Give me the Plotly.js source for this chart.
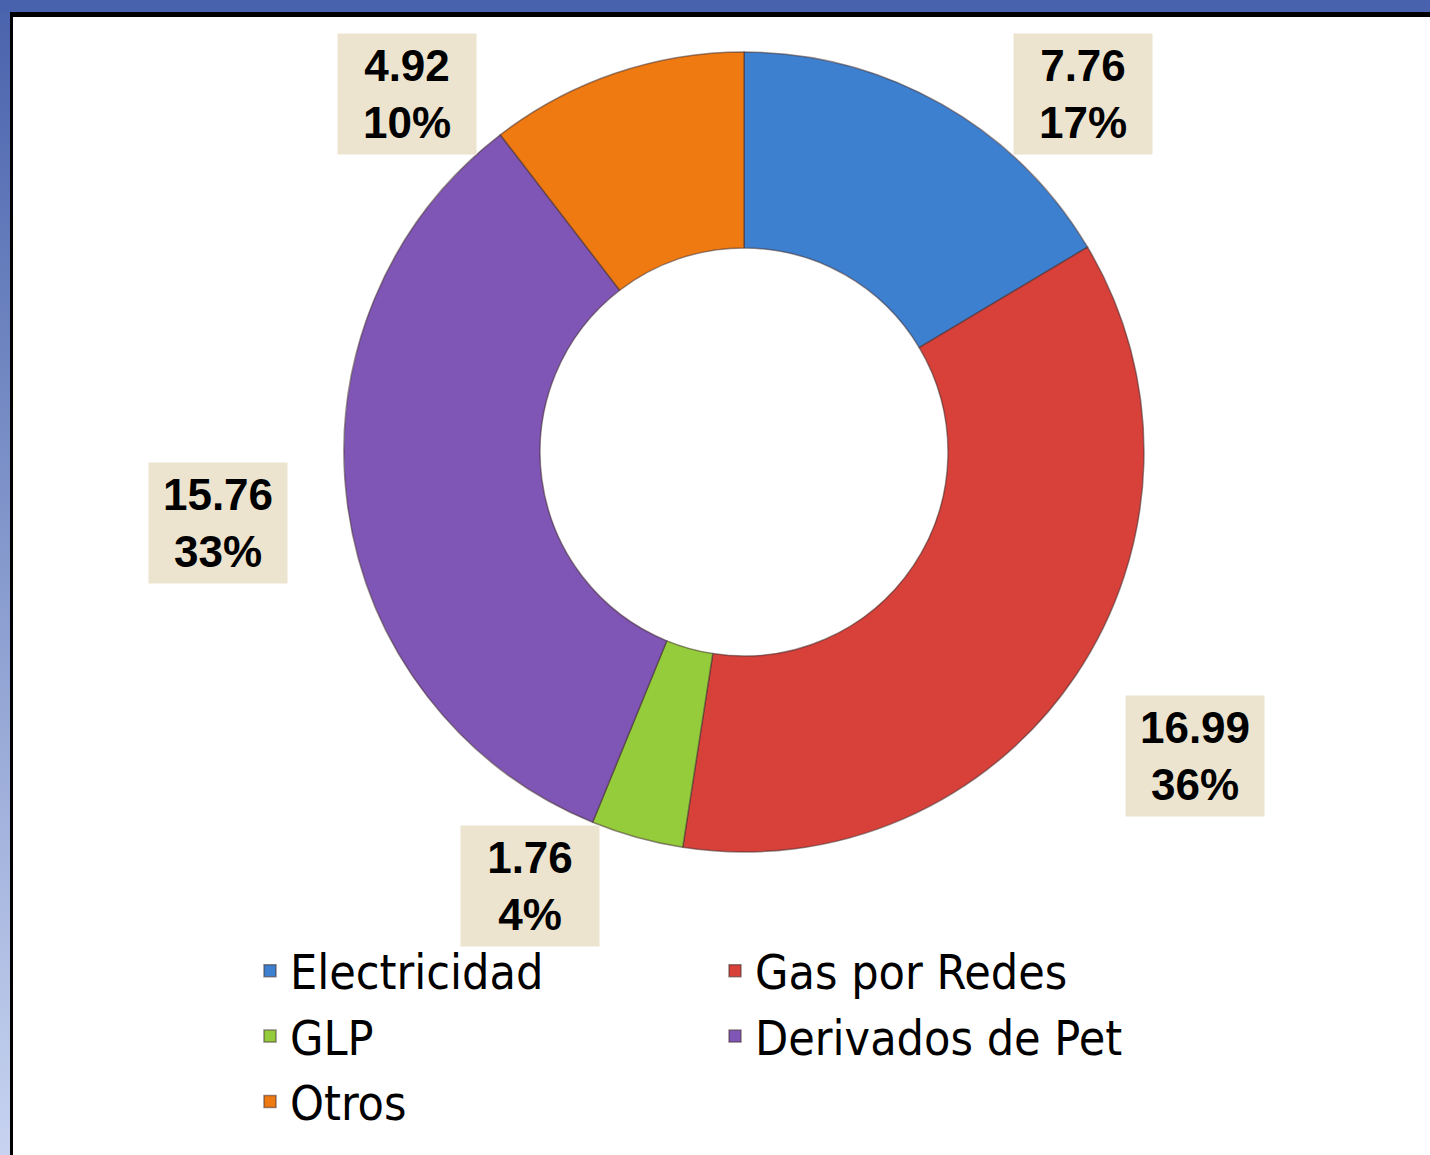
<!DOCTYPE html>
<html>
<head>
<meta charset="utf-8">
<script src="https://cdn.plot.ly/plotly-3.0.1.min.js"></script>
<style>
  html, body { margin:0; padding:0; background:#ffffff; width:1430px; height:1155px; overflow:hidden; }
  #chart { position:absolute; left:0; top:0; width:1430px; height:1155px; }
  #topband { position:absolute; left:0; top:0; width:1430px; height:12px; background:#4862ad; pointer-events:none; }
  #topline { position:absolute; left:10px; top:12px; width:1420px; height:5px; background:#000; pointer-events:none; }
  #leftband { position:absolute; left:0; top:12px; width:10px; height:1143px; background:linear-gradient(#4a64ad, #c7d3f0); pointer-events:none; }
  #leftline { position:absolute; left:10px; top:12px; width:3px; height:1143px; background:#000; pointer-events:none; }
</style>
</head>
<body>
<div id="chart"></div>
<div id="topband"></div>
<div id="topline"></div>
<div id="leftband"></div>
<div id="leftline"></div>
<script>
// ---- data ----
const categories    = ['Electricidad', 'Gas por Redes', 'GLP', 'Derivados de Pet', 'Otros'];
const values        = [7.76, 16.99, 1.76, 15.76, 4.92];
const valueLabels   = ['7.76', '16.99', '1.76', '15.76', '4.92'];
const percentLabels = ['17%', '36%', '4%', '33%', '10%'];
const sliceColors   = ['#3d80d0', '#d8403a', '#94cc3c', '#7f55b5', '#f07a12'];

// ---- geometry (pixels) ----
const W = 1430, H = 1155;
const ML = 0, MR = 280;                 // right margin narrows the legend wrap width (2 columns)
const PW = W - ML - MR;                 // plot-area width
const CX = 744, CY = 452, R = 400;      // pie centre / radius
const BW = 136, BH = 118, GAP = 55;     // label box size and distance
const TOP_LIMIT = 35, BOTTOM_LIMIT = 945;

const px2x = p => (p - ML) / PW;
const px2y = p => 1 - p / H;

const domain = {
  x: [px2x(CX - R), px2x(CX + R)],
  y: [px2y(CY + R), px2y(CY - R)]
};

// label boxes placed outside the ring, derived from the slice angles
const total = values.reduce((a, b) => a + b, 0);
let cum = 0;
const annotations = values.map((v, i) => {
  const th = 2 * Math.PI * (cum + v / 2) / total;
  cum += v;
  const s = Math.sin(th), c = Math.cos(th);
  const ext = (BW / 2) * Math.abs(s) + (BH / 2) * Math.abs(c);
  const d = R + GAP + ext;
  let x = CX + d * s;
  let y = CY - d * c;
  y = Math.max(TOP_LIMIT + BH / 2, Math.min(BOTTOM_LIMIT - BH / 2, y));
  const sg = s >= 0 ? 1 : -1;
  for (let k = 0; k < 2000; k++) {
    const qx = Math.max(x - BW / 2, Math.min(x + BW / 2, CX));
    const qy = Math.max(y - BH / 2, Math.min(y + BH / 2, CY));
    if (Math.hypot(qx - CX, qy - CY) >= R + 2) break;
    x += sg * 2;
  }
  return {
    xref: 'paper', yref: 'paper',
    x: px2x(x), y: px2y(y),
    xanchor: 'center', yanchor: 'middle',
    showarrow: false,
    text: valueLabels[i] + '<br>' + percentLabels[i],
    font: { family: 'Liberation Sans, Arial, sans-serif', size: 44, color: '#000000', weight: 'bold' },
    bgcolor: '#ede4cf',
    width: BW, height: BH,
    align: 'center', valign: 'middle'
  };
});

const trace = {
  type: 'pie',
  labels: categories,
  values: values,
  hole: 0.51,
  sort: false,
  direction: 'clockwise',
  rotation: 0,
  textinfo: 'none',
  textposition: 'none',
  domain: domain,
  automargin: false,
  marker: { colors: sliceColors, line: { color: 'rgba(70,50,50,0.55)', width: 1.5 } },
  hoverinfo: 'label+value+percent'
};

const layout = {
  width: W, height: H,
  margin: { l: ML, r: MR, t: 0, b: 0, autoexpand: false },
  paper_bgcolor: 'rgba(0,0,0,0)',
  plot_bgcolor: 'rgba(0,0,0,0)',
  showlegend: true,
  legend: {
    orientation: 'h',
    x: px2x(250), xanchor: 'left',
    y: px2y(933), yanchor: 'top',
    entrywidth: 420, entrywidthmode: 'pixels',
    font: { family: 'Liberation Sans Narrow, Arial Narrow, DejaVu Sans Condensed, sans-serif', size: 48, color: '#000000' },
    bgcolor: 'rgba(0,0,0,0)',
    traceorder: 'normal'
  },
  annotations: annotations
};

Plotly.newPlot('chart', [trace], layout, { displayModeBar: false, staticPlot: true });
</script>
</body>
</html>
